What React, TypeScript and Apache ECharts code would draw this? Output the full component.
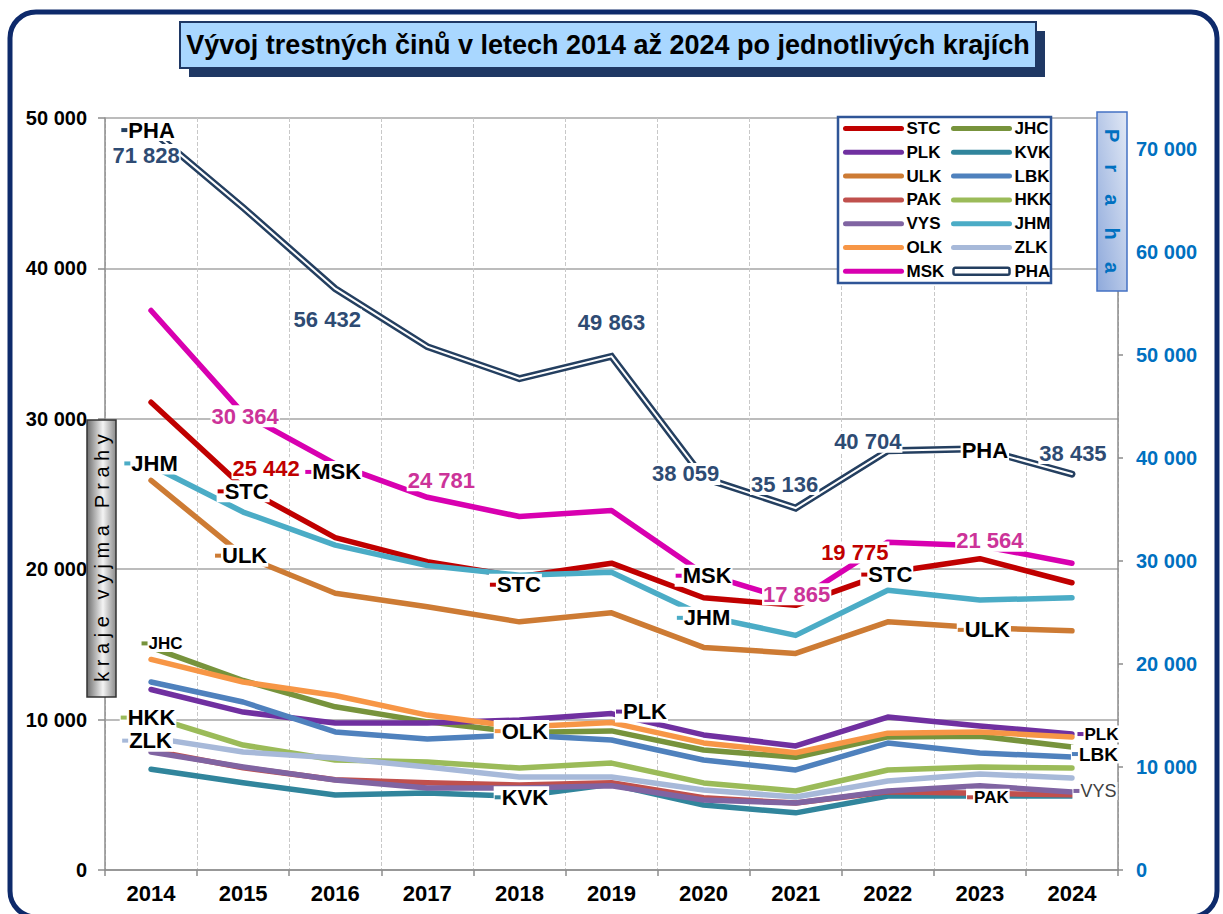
import React, { useEffect, useRef } from 'react';
import * as echarts from 'echarts';

const years = ['2014', '2015', '2016', '2017', '2018', '2019', '2020', '2021', '2022', '2023', '2024'];

const STC = [31100, 25442, 22100, 20500, 19500, 20400, 18100, 17600, 19775, 20700, 19100];
const JHC = [14800, 12600, 10850, 9850, 9150, 9250, 7980, 7500, 8850, 8900, 8180];
const PLK = [12000, 10500, 9770, 9770, 9970, 10400, 8980, 8250, 10170, 9580, 9040];
const KVK = [6700, 5800, 4990, 5120, 4900, 5700, 4320, 3800, 4920, 4920, 4920];
const ULK = [25900, 20900, 18400, 17500, 16500, 17100, 14800, 14400, 16500, 16100, 15900];
const LBK = [12500, 11170, 9180, 8710, 8980, 8640, 7310, 6650, 8440, 7780, 7510];
const PAK = [7950, 6800, 6000, 5800, 5650, 5800, 4800, 4450, 5200, 5100, 5000];
const HKK = [10200, 8310, 7310, 7180, 6780, 7110, 5790, 5250, 6650, 6850, 6780];
const VYS = [7850, 6850, 5980, 5450, 5450, 5600, 4650, 4450, 5250, 5600, 5190];
const JHM = [26900, 23800, 21600, 20250, 19600, 19800, 16900, 15600, 18600, 17950, 18100];
const OLK = [14000, 12500, 11600, 10300, 9500, 9800, 8450, 7800, 9100, 9180, 8850];
const ZLK = [8800, 7850, 7450, 6850, 6180, 6180, 5320, 4850, 5920, 6380, 6120];
const MSK = [37200, 30364, 27000, 24781, 23500, 23900, 19700, 17865, 21800, 21564, 20400];
const PHA = [71828, 64300, 56432, 50800, 47700, 49863, 38059, 35136, 40704, 40900, 38435];

const leftTicks = [0, 10000, 20000, 30000, 40000, 50000];
const rightTicks = [0, 10000, 20000, 30000, 40000, 50000, 60000, 70000];

const regions: { name: string; data: number[]; color: string }[] = [
  { name: 'STC', data: STC, color: '#C00000' },
  { name: 'JHC', data: JHC, color: '#77933C' },
  { name: 'PLK', data: PLK, color: '#7030A0' },
  { name: 'KVK', data: KVK, color: '#31859C' },
  { name: 'ULK', data: ULK, color: '#CD7B34' },
  { name: 'LBK', data: LBK, color: '#4F81BD' },
  { name: 'PAK', data: PAK, color: '#C0504D' },
  { name: 'HKK', data: HKK, color: '#9BBB59' },
  { name: 'VYS', data: VYS, color: '#8064A2' },
  { name: 'JHM', data: JHM, color: '#4BACC6' },
  { name: 'OLK', data: OLK, color: '#F79646' },
  { name: 'ZLK', data: ZLK, color: '#A7B9D9' },
  { name: 'MSK', data: MSK, color: '#D800B0' },
];
const PHA_COLOR = '#243F60';

type Lab = { s: string; i: number; k: 'name' | 'value' | 'plain'; dx: number; dy: number; size?: number; weight?: string; color?: string };
const labelSpecs: Lab[] = [
  { s: 'PHA', i: 0, k: 'name', dx: -3, dy: 0 },
  { s: 'PHA', i: 0, k: 'value', dx: -5, dy: 25 },
  { s: 'PHA', i: 2, k: 'value', dx: -8, dy: 31 },
  { s: 'PHA', i: 5, k: 'value', dx: 0, dy: -34 },
  { s: 'PHA', i: 6, k: 'value', dx: -18, dy: -4 },
  { s: 'PHA', i: 7, k: 'value', dx: -11, dy: -24 },
  { s: 'PHA', i: 8, k: 'value', dx: -20, dy: -9 },
  { s: 'PHA', i: 9, k: 'plain', dx: 5, dy: 2 },
  { s: 'PHA', i: 10, k: 'value', dx: 1, dy: -21 },
  { s: 'MSK', i: 1, k: 'value', dx: 2, dy: 3 },
  { s: 'MSK', i: 2, k: 'name', dx: -2, dy: 8 },
  { s: 'MSK', i: 3, k: 'value', dx: 14, dy: -17 },
  { s: 'MSK', i: 6, k: 'name', dx: 0, dy: 2 },
  { s: 'MSK', i: 7, k: 'value', dx: 1, dy: -7 },
  { s: 'MSK', i: 9, k: 'value', dx: 10, dy: -5 },
  { s: 'STC', i: 1, k: 'value', dx: 23, dy: -19 },
  { s: 'STC', i: 1, k: 'name', dx: 0, dy: 4 },
  { s: 'STC', i: 4, k: 'name', dx: -4, dy: 8 },
  { s: 'STC', i: 8, k: 'value', dx: -33, dy: -20 },
  { s: 'STC', i: 8, k: 'name', dx: -1, dy: 2 },
  { s: 'JHM', i: 0, k: 'name', dx: 0, dy: -2 },
  { s: 'JHM', i: 6, k: 'name', dx: 0, dy: 2 },
  { s: 'ULK', i: 1, k: 'name', dx: -2, dy: 0 },
  { s: 'ULK', i: 9, k: 'name', dx: 4, dy: 2 },
  { s: 'JHC', i: 0, k: 'name', dx: 11, dy: -4, size: 17 },
  { s: 'HKK', i: 0, k: 'name', dx: -3, dy: 1 },
  { s: 'ZLK', i: 0, k: 'name', dx: -4, dy: 3 },
  { s: 'OLK', i: 4, k: 'name', dx: 2, dy: 4 },
  { s: 'PLK', i: 5, k: 'name', dx: 30, dy: -2 },
  { s: 'PLK', i: 10, k: 'name', dx: 26, dy: 0, size: 17 },
  { s: 'KVK', i: 4, k: 'name', dx: 2, dy: 1 },
  { s: 'LBK', i: 10, k: 'name', dx: 23, dy: -3, size: 19 },
  { s: 'PAK', i: 9, k: 'name', dx: 8, dy: 4, size: 17 },
  { s: 'VYS', i: 10, k: 'name', dx: 23, dy: -1, size: 18, weight: 'normal', color: '#404040' },
];

const valueColors: Record<string, string> = { PHA: '#2E4B73', MSK: '#CC3399', STC: '#C00000' };

const fmt = (v: number) => String(Math.round(v)).replace(/\B(?=(\d{3})+(?!\d))/g, ' ');
const FONT = "'Liberation Sans', Arial, sans-serif";
const NARROW = "'Liberation Sans Narrow', 'Arial Narrow', 'Liberation Sans', sans-serif";

function seriesData(name: string): number[] {
  if (name === 'PHA') return PHA;
  const r = regions.find((x) => x.name === name);
  return r ? r.data : [];
}
function seriesColor(name: string): string {
  if (name === 'PHA') return PHA_COLOR;
  const r = regions.find((x) => x.name === name);
  return r ? r.color : '#000';
}

function buildLabelItem(l: Lab) {
  const v = seriesData(l.s)[l.i];
  const size = l.size || 22;
  let formatter: string;
  let color = '#000';
  if (l.k === 'value') {
    formatter = '{t|' + fmt(v) + '}';
    color = valueColors[l.s] || '#000';
  } else if (l.k === 'plain') {
    formatter = '{t|' + l.s + '}';
  } else {
    formatter = '{m| }{g| }{t|' + l.s + '}';
  }
  if (l.color) color = l.color;
  return {
    value: [l.i, v],
    label: {
      show: true,
      position: 'inside',
      offset: [l.dx, l.dy],
      formatter,
      backgroundColor: '#fff',
      padding: [0, 1, 0, 1],
      opacity: 1,
      rich: {
        m: { backgroundColor: seriesColor(l.s), width: 6, height: 4, fontSize: 4, lineHeight: 4 },
        g: { width: 1, fontSize: 4 },
        t: { fontSize: size, fontWeight: l.weight || 'bold', color, fontFamily: FONT, lineHeight: size },
      },
    },
  };
}

export default function App() {
  const ref = useRef<HTMLDivElement>(null);
  useEffect(() => {
    if (!ref.current) return;
    const chart = echarts.init(ref.current, undefined, { renderer: 'svg' });

    const lineSeries: any[] = regions.map((r) => ({
      name: r.name,
      type: 'line',
      data: r.data,
      yAxisIndex: 0,
      symbol: 'none',
      color: r.color,
      lineStyle: { color: r.color, width: 5.5, cap: 'round', join: 'round' },
      z: 2,
    }));
    lineSeries.push({
      name: 'PHA',
      type: 'line',
      data: PHA,
      yAxisIndex: 1,
      symbol: 'none',
      color: PHA_COLOR,
      lineStyle: { color: PHA_COLOR, width: 7, cap: 'round', join: 'miter' },
      z: 2,
    });
    lineSeries.push({
      name: 'PHA_inner',
      type: 'line',
      data: PHA,
      yAxisIndex: 1,
      symbol: 'none',
      lineStyle: { color: '#ffffff', width: 2, cap: 'round', join: 'miter' },
      z: 2,
      silent: true,
    });

    const leftLabels = labelSpecs.filter((l) => l.s !== 'PHA').map(buildLabelItem);
    const rightLabels = labelSpecs.filter((l) => l.s === 'PHA').map(buildLabelItem);

    const labelSeriesCommon = {
      type: 'scatter',
      symbolSize: 1,
      itemStyle: { color: 'rgba(255,255,255,0)', opacity: 1 },
      z: 10,
      silent: true,
    };
    lineSeries.push({ ...labelSeriesCommon, name: 'labelsL', yAxisIndex: 0, data: leftLabels });
    lineSeries.push({ ...labelSeriesCommon, name: 'labelsR', yAxisIndex: 1, data: rightLabels });

    const legendCommon = {
      orient: 'vertical',
      top: 120,
      padding: 0,
      itemWidth: 56,
      itemHeight: 7,
      itemGap: 6.8,
      selectedMode: false,
      itemStyle: { opacity: 0 },
      lineStyle: { width: 5, cap: 'round' },
      textStyle: { fontSize: 17, fontWeight: 'bold', color: '#000', fontFamily: FONT, lineHeight: 17 },
      z: 5,
    };

    const option: any = {
      animation: false,
      backgroundColor: '#ffffff',
      textStyle: { fontFamily: FONT },
      grid: { left: 105, right: 105, top: 118, bottom: 44 },
      legend: [
        { ...legendCommon, left: 843, data: ['STC', 'PLK', 'ULK', 'PAK', 'VYS', 'OLK', 'MSK'] },
        {
          ...legendCommon,
          left: 951,
          data: [
            'JHC', 'KVK', 'LBK', 'HKK', 'JHM', 'ZLK',
            { name: 'PHA', icon: 'roundRect', itemStyle: { color: '#ffffff', borderColor: PHA_COLOR, borderWidth: 2.5, opacity: 1 } },
          ],
        },
      ],
      xAxis: {
        type: 'category',
        data: years,
        boundaryGap: true,
        axisLine: { lineStyle: { color: '#8C8C8C', width: 1.5 } },
        axisTick: { show: true, length: 6, lineStyle: { color: '#8C8C8C', width: 1.5 } },
        axisLabel: { fontSize: 22, fontWeight: 'bold', color: '#000', margin: 12, fontFamily: NARROW },
        splitLine: { show: true, lineStyle: { type: 'dashed', color: '#C8C8C8', width: 1 } },
      },
      yAxis: [
        {
          type: 'value',
          position: 'left',
          min: leftTicks[0],
          max: leftTicks[leftTicks.length - 1],
          interval: 10000,
          axisLine: { show: true, lineStyle: { color: '#8C8C8C', width: 1.5 } },
          axisTick: { show: true, length: 7, lineStyle: { color: '#8C8C8C', width: 1.5 } },
          axisLabel: { fontSize: 20, fontWeight: 'bold', color: '#000', margin: 18, formatter: (v: number) => fmt(v) },
          splitLine: { show: true, lineStyle: { color: '#A6A6A6', width: 1.5 } },
        },
        {
          type: 'value',
          position: 'right',
          min: rightTicks[0],
          max: 73000,
          interval: 10000,
          axisLine: { show: true, lineStyle: { color: '#8C8C8C', width: 1.5 } },
          axisTick: { show: true, length: 5, lineStyle: { color: '#8C8C8C', width: 1.5 } },
          axisLabel: {
            fontSize: 20,
            fontWeight: 'bold',
            color: '#0070C0',
            margin: 18,
            formatter: (v: number) => (rightTicks.indexOf(v) >= 0 ? fmt(v) : ''),
          },
          splitLine: { show: false },
        },
      ],
      series: lineSeries,
      graphic: [
        {
          type: 'rect',
          shape: { x: 10, y: 12, width: 1207, height: 905, r: 26 },
          style: { fill: 'none', stroke: '#0E2A6B', lineWidth: 5 },
          z: 20,
          silent: true,
        },
        {
          type: 'rect',
          shape: { x: 189, y: 31, width: 856, height: 46 },
          style: { fill: '#1F3864' },
          z: 20,
        },
        {
          type: 'rect',
          shape: { x: 180, y: 22, width: 856, height: 46 },
          style: { fill: '#A9D7FF', stroke: '#1F3864', lineWidth: 2 },
          z: 21,
        },
        {
          type: 'text',
          x: 608,
          y: 45,
          style: {
            text: 'Vývoj trestných činů v letech 2014 až 2024 po jednotlivých krajích',
            fontSize: 27,
            fontWeight: 'bold',
            fontFamily: NARROW,
            fill: '#000',
            align: 'center',
            verticalAlign: 'middle',
          },
          z: 22,
        },
        {
          type: 'rect',
          shape: { x: 838, y: 117, width: 213, height: 166 },
          style: { fill: '#ffffff', stroke: '#2F5597', lineWidth: 2.5 },
          z: 3,
        },
        {
          type: 'rect',
          shape: { x: 87, y: 420, width: 29, height: 277 },
          style: {
            fill: new echarts.graphic.LinearGradient(0, 0, 1, 0, [
              { offset: 0, color: '#6E6E6E' },
              { offset: 0.55, color: '#F4F4F4' },
              { offset: 1, color: '#8A8A8A' },
            ]),
            stroke: '#333333',
            lineWidth: 1.5,
          },
          z: 20,
        },
        {
          type: 'text',
          x: 102,
          y: 558,
          rotation: Math.PI / 2,
          style: {
            text: 'k r a j e   v y j m a   P r a h y',
            fontSize: 20,
            fontFamily: FONT,
            fill: '#000',
            align: 'center',
            verticalAlign: 'middle',
          },
          z: 21,
        },
        {
          type: 'rect',
          shape: { x: 1097, y: 112, width: 30, height: 179 },
          style: {
            fill: new echarts.graphic.LinearGradient(0, 1, 1, 0, [
              { offset: 0, color: '#8EA9DB' },
              { offset: 1, color: '#E1E8F5' },
            ]),
            stroke: '#4472C4',
            lineWidth: 1.5,
          },
          z: 20,
        },
        {
          type: 'text',
          x: 1112,
          y: 201,
          rotation: -Math.PI / 2,
          style: {
            text: 'P    r    a    h    a',
            fontSize: 20,
            fontWeight: 'bold',
            fontFamily: FONT,
            fill: '#0070C0',
            align: 'center',
            verticalAlign: 'middle',
          },
          z: 21,
        },
      ],
    };
    chart.setOption(option);
    return () => chart.dispose();
  }, []);
  return <div ref={ref} style={{ position: 'absolute', left: 0, top: 0, width: 1223, height: 914 }} />;
}
